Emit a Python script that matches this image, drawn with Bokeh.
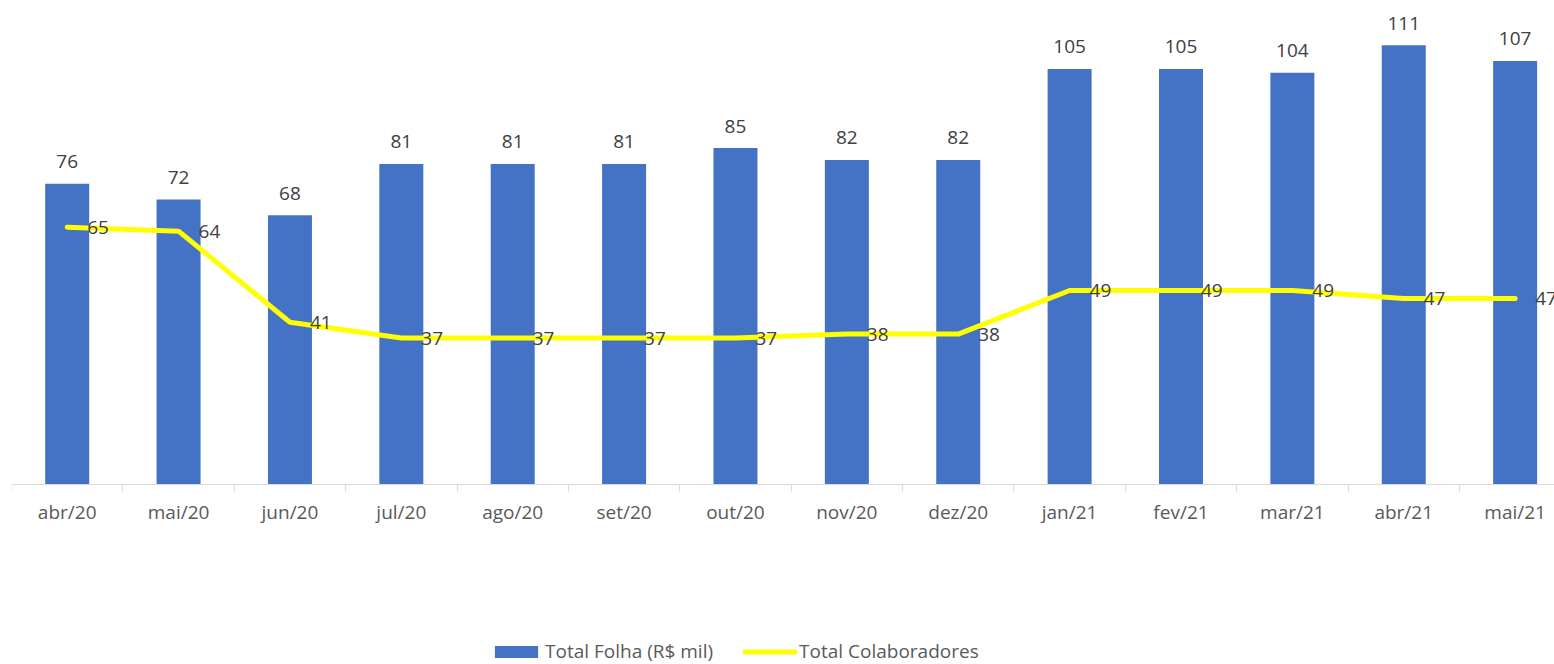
from bokeh.plotting import figure
from bokeh.models import Range1d, FixedTicker, ColumnDataSource, Legend, LegendItem
from bokeh.core.properties import value
from bokeh.embed import file_html
from bokeh.resources import INLINE

# ---- data ----
meses = ["abr/20", "mai/20", "jun/20", "jul/20", "ago/20", "set/20", "out/20",
         "nov/20", "dez/20", "jan/21", "fev/21", "mar/21", "abr/21", "mai/21"]
total_folha = [76, 72, 68, 81, 81, 81, 85, 82, 82, 105, 105, 104, 111, 107]
total_colaboradores = [65, 64, 41, 37, 37, 37, 37, 38, 38, 49, 49, 49, 47, 47]

FONT = "Open Sans"
idx = list(range(len(meses)))
src = ColumnDataSource(dict(
    x=idx,
    folha=total_folha,
    colab=total_colaboradores,
    folha_lbl=[str(v) for v in total_folha],
    colab_lbl=[str(v) for v in total_colaboradores],
))

cat_w = 111.38          # px per category
W, H = 1554, 664
LB, TB = 11, 9          # frame offsets
Y_TOP = 120.0
axis_px = 484           # pixel row of the value 0 / category axis
scale = (axis_px - TB) / Y_TOP
y_start = Y_TOP - (H - TB) / scale

p = figure(width=W, height=H, output_backend="svg", toolbar_location=None,
           x_range=Range1d(-0.5, -0.5 + (W - LB) / cat_w),
           y_range=Range1d(y_start, Y_TOP),
           y_axis_location=None,
           min_border_left=LB, min_border_right=0,
           min_border_top=TB, min_border_bottom=0)
p.outline_line_color = None
p.grid.visible = False
p.background_fill_color = "white"
p.border_fill_color = "white"

bars = p.vbar(x="x", top="folha", bottom=0, width=0.395, source=src,
              fill_color="#4472C4", line_color=None)
line = p.line(x="x", y="colab", source=src, line_color="#FFFF00",
              line_width=5, line_join="round", line_cap="round")

p.text(x="x", y="colab", text="colab_lbl", source=src, x_offset=20, y_offset=0,
       text_align="left", text_baseline="middle",
       text_font=value(FONT), text_font_size="19px", text_color="#404040")
p.text(x="x", y="folha", text="folha_lbl", source=src, y_offset=-22,
       text_align="center", text_baseline="alphabetic",
       text_font=value(FONT), text_font_size="19px", text_color="#404040")

ax = p.xaxis[0]
ax.fixed_location = 0
ax.ticker = FixedTicker(ticks=idx, minor_ticks=[i - 0.5 for i in range(len(meses) + 1)])
ax.major_label_overrides = {i: m for i, m in enumerate(meses)}
ax.major_tick_out = 0
ax.major_tick_in = 0
ax.minor_tick_out = 7
ax.minor_tick_in = 0
ax.minor_tick_line_color = "#d9d9d9"
ax.axis_line_color = "#d9d9d9"
ax.major_label_standoff = 7
ax.major_label_text_font = FONT
ax.major_label_text_font_size = "19px"
ax.major_label_text_color = "#595959"

legend = Legend(
    items=[LegendItem(label="Total Folha (R$ mil)", renderers=[bars]),
           LegendItem(label="Total Colaboradores", renderers=[line])],
    location=(478, 0), orientation="horizontal",
    glyph_width=54, glyph_height=15, label_standoff=2, spacing=30,
    padding=0, margin=0, border_line_color=None, background_fill_alpha=0,
    label_text_font=FONT, label_text_font_size="19px", label_text_color="#595959",
)
p.add_layout(legend)

open("out.html", "w").write(file_html(p, INLINE))
